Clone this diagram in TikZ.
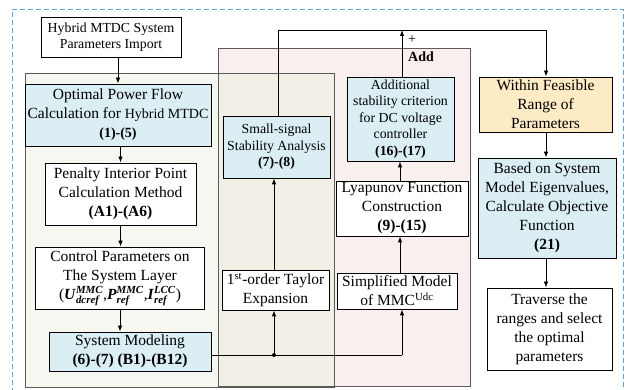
\documentclass[tikz,border=0pt]{standalone}
\usepackage{amsmath}
\usepackage{fontspec}
\setmainfont{Liberation Serif}
\usetikzlibrary{arrows.meta,calc}
\definecolor{bluefill}{HTML}{DAEEF3}
\definecolor{yelfill}{HTML}{FDEBC5}
\definecolor{pinkfill}{HTML}{F9EFEE}
\definecolor{leftfill}{HTML}{F7F7F2}
\definecolor{midfill}{HTML}{F2EFE7}
\definecolor{dashblue}{HTML}{5AA5D6}
\definecolor{panelline}{HTML}{5A5A5A}
\newcommand\bitm[1]{\textbf{\textit{#1}}}
\newcommand\vsub[3]{$\text{\bitm{#1}}_{\text{\bitm{#2}}}^{\text{\bitm{#3}}}$}
\begin{document}
\begin{tikzpicture}[x=1pt,y=-1pt,
  box/.style={draw=black,line width=0.8pt,align=center,inner sep=0pt,font=\fontsize{15.5}{19}\selectfont},
  smallbox/.style={box,font=\fontsize{13.8}{16.6}\selectfont},
  bluebox/.style={fill=bluefill},
  yelbox/.style={fill=yelfill},
  whitebox/.style={fill=white},
  arr/.style={-{Latex[length=6pt,width=4.5pt]},line width=0.8pt},
  ln/.style={line width=0.8pt},
  panel/.style={draw=panelline,line width=0.8pt}]
\useasboundingbox (0,0) rectangle (627,390);
\fill[white] (0,0) rectangle (627,390);
% panels
\fill[pinkfill] (218,48) rectangle (470,386);
\fill[leftfill] (25,73) rectangle (334,387);
\fill[midfill] (218,73) rectangle (334,387);
\draw[panel] (218,48) rectangle (470,386);
\draw[panel] (25,73) rectangle (334,387);
% dashed frame
\draw[dashblue,line width=0.9pt,dash pattern=on 5pt off 3pt] (12,393) -- (12,9) -- (623,9) -- (623,393);
% nodes
\node[smallbox,whitebox,minimum width=140pt,minimum height=40pt] (imp) at (111,37) {Hybrid MTDC System\\Parameters Import};
\node[box,bluebox,minimum width=186pt,minimum height=62pt] (opf) at (118,115) {Optimal Power Flow\\Calculation for {\fontsize{14}{19}\selectfont Hybrid MTDC}\\{\fontsize{14}{19}\selectfont\textbf{(1)-(5)}}};
\node[box,whitebox,minimum width=151pt,minimum height=62pt] (pen) at (120.5,194) {Penalty Interior Point\\Calculation Method\\\textbf{(A1)-(A6)}};
\node[box,whitebox,minimum width=169pt,minimum height=62pt] (ctrl) at (120,278) {Control Parameters on\\The System Layer\\(\vsub{U}{dcref}{MMC},\vsub{P}{ref}{MMC},\vsub{I}{ref}{LCC})};
\node[box,bluebox,minimum width=162pt,minimum height=39pt] (sysm) at (130,351.5) {System Modeling\\\textbf{(6)-(7) (B1)-(B12)}};
\node[smallbox,bluebox,minimum width=107pt,minimum height=62pt] (ssa) at (276.5,147) {Small-signal\\Stability Analysis\\\textbf{(7)-(8)}};
\node[box,whitebox,minimum width=107pt,minimum height=40pt] (tay) at (275.5,290) {1\textsuperscript{st}-order Taylor\\Expansion};
\node[smallbox,bluebox,minimum width=107pt,minimum height=84pt] (add) at (400.5,119) {Additional\\stability criterion\\for DC voltage\\controller\\\textbf{(16)-(17)}};
\node[box,whitebox,minimum width=132pt,minimum height=55pt] (lyap) at (402,208.5) {Lyapunov Function\\Construction\\\textbf{(9)-(15)}};
\node[box,whitebox,minimum width=120pt,minimum height=36pt] (simp) at (397,291) {Simplified Model\\of MMC\textsuperscript{Udc}};
\node[box,yelbox,minimum width=133pt,minimum height=55pt] (within) at (545.5,104.5) {Within Feasible\\Range of\\Parameters};
\node[box,bluebox,minimum width=138pt,minimum height=100pt] (based) at (547,208) {Based on System\\Model Eigenvalues,\\Calculate Objective\\Function\\\textbf{(21)}};
\node[box,whitebox,minimum width=125pt,minimum height=82pt] (trav) at (549.5,329) {Traverse the\\ranges and select\\the optimal\\parameters};
\node[font=\fontsize{14}{16}\selectfont] (plus) at (412,40) {+};
\node[font=\fontsize{14}{16}\selectfont\bfseries] (addlbl) at (421,57) {Add};
% connectors
\draw[arr] (imp.south -| opf.north) -- (opf.north);
\draw[arr] (opf.south -| pen.north) -- (pen.north);
\draw[arr] (pen.south) -- (pen.south |- ctrl.north);
\draw[arr] (ctrl.south) -- (ctrl.south |- sysm.north);
\coordinate (dot) at (274,355);
\coordinate (corner) at (402,355);
\draw[ln] (sysm.east |- dot) -- (corner);
\draw[arr] (corner) -- (corner |- simp.south);
\draw[arr] (dot) -- (dot |- tay.south);
\fill (dot) circle (2pt);
\draw[arr] (tay.north -| dot) -- (dot |- ssa.south);
\coordinate (topL) at (278,30);
\coordinate (topR) at (546,30);
\draw[arr] (ssa.north -| topL) -- (topL) -- (topR) -- (topR |- within.north);
\coordinate (simparr) at (400,0);
\draw[arr] (simp.north -| simparr) -- (lyap.south -| simparr);
\draw[arr] (lyap.north -| simparr) -- (add.south -| simparr);
\coordinate (addtop) at (402,30);
\draw[arr] (add.north -| addtop) -- (addtop);
\draw[arr] (within.south -| topR) -- (based.north -| topR);
\draw[arr] (based.south -| topR) -- (trav.north -| topR);
\end{tikzpicture}
\end{document}
